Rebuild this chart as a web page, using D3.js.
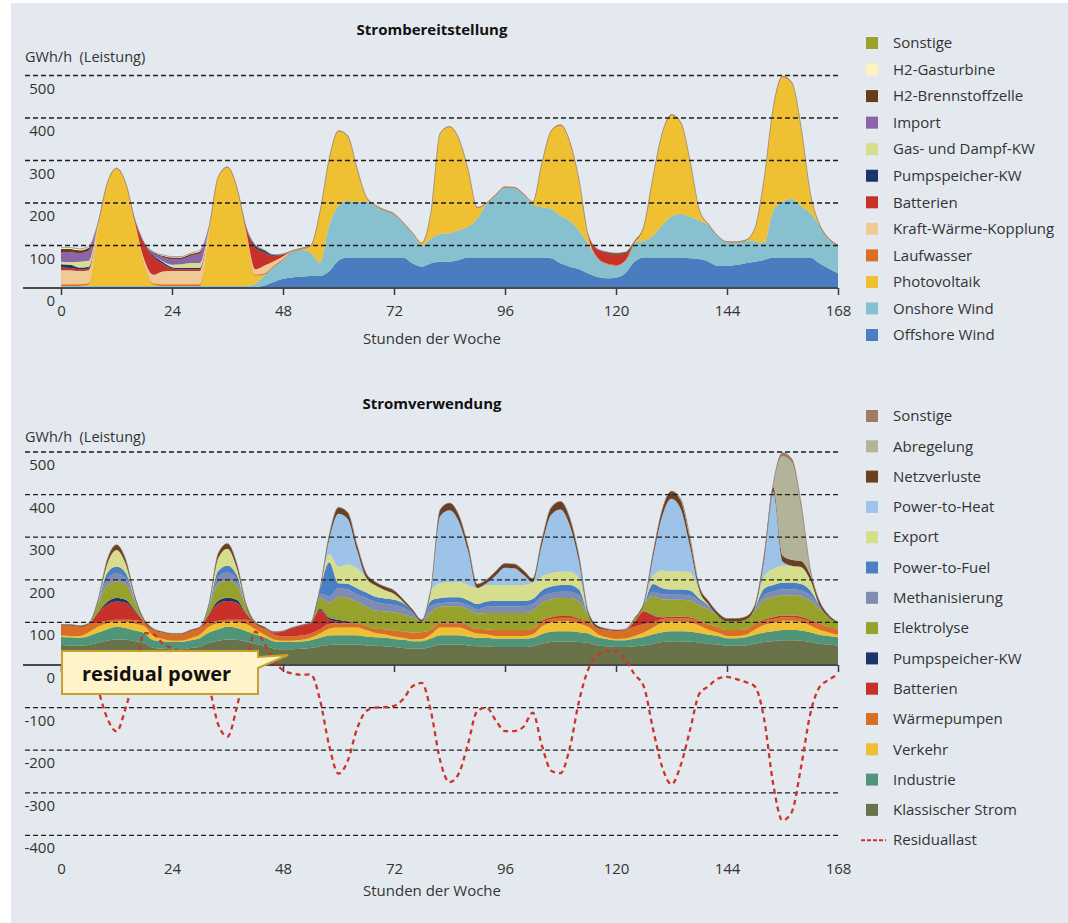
<!DOCTYPE html>
<meta charset="utf-8">
<script src="https://d3js.org/d3.v7.min.js"></script>
<style>
  body { margin: 0; background: #fff; }
  text { font-family: "Open Sans", sans-serif; fill: #333; }
</style>
<div id="chart"></div>
<script>

// hours of the week, one value every 2 hours (0..168)
var hours = d3.range(0, 169, 2);
var xTicks = [0, 24, 48, 72, 96, 120, 144, 168];

// ---- Strombereitstellung (supply), GWh/h, one row per day (h0..h22), last value = h168
var offshore = [
  1,1,1,1,1,1,1,1,1,1,1,1,
  1,1,1,1,1,1,1,1,1,2,6,14,
  22,25,27,28,28,40,65,72,72,72,72,72,
  72,72,58,50,58,62,62,66,72,72,72,72,
  72,72,72,72,72,70,58,50,44,34,26,23,
  25,35,62,72,72,72,72,72,70,68,62,52,
  52,54,58,62,66,72,72,72,72,72,58,46,
  35];
var onshore = [
  4,4,4,4,4,4,4,4,4,4,4,4,
  4,4,4,4,4,4,4,4,4,8,24,36,
  44,60,63,55,32,108,128,133,131,131,121,110,
  101,80,70,50,58,65,67,70,72,91,126,146,
  164,163,148,124,118,116,112,108,90,69,44,33,
  27,28,44,39,51,76,96,102,98,90,86,69,
  55,53,53,48,40,110,131,138,121,104,90,69,
  64];
var photovoltaik = [
  0,0,0,3,140,240,275,240,148,52,3,0,
  0,0,0,0,125,255,278,231,129,19,2,0,
  0,0,0,15,118,155,175,151,77,10,0,0,
  0,0,0,4,62,236,249,214,134,25,0,0,
  0,0,0,5,103,182,212,185,119,17,0,0,
  0,0,0,32,137,215,238,214,130,25,0,0,
  0,0,0,28,147,241,293,272,185,47,0,0,
  0];
var laufwasser = [
  4,4,4,4,2,2,2,2,2,2,3,4,
  4,4,4,4,2,2,2,2,2,3,3,3,
  3,2,2,2,2,2,2,2,2,2,2,2,
  2,2,2,2,2,2,2,2,2,2,2,2,
  2,2,2,2,2,2,2,2,2,2,2,2,
  2,2,2,2,2,2,2,2,2,2,2,2,
  2,2,2,2,2,2,2,2,2,2,2,2,
  2];
var kwk = [
  33,33,31,30,4,0,0,0,0,8,20,30,
  31,31,31,31,8,0,0,0,0,12,18,10,
  5,1,0,0,0,0,0,0,0,0,0,0,
  0,0,0,0,0,0,0,0,0,0,0,0,
  0,0,0,0,0,0,0,0,0,0,0,0,
  0,0,0,0,0,0,0,0,0,0,0,0,
  0,0,0,0,0,0,0,0,0,0,0,0,
  0];
var batterienS = [
  6,5,4,4,0,0,0,0,5,37,42,18,
  6,4,4,4,1,0,0,0,8,50,30,12,
  4,0,0,0,0,0,0,0,0,0,0,0,
  0,0,0,0,0,0,0,0,0,0,0,0,
  0,0,0,0,0,0,0,0,0,3,18,24,
  24,15,0,0,0,0,0,0,0,0,0,0,
  0,0,0,0,0,0,0,0,0,0,0,0,
  0];
var pumpS = [
  8,8,4,4,0,0,0,0,0,2,4,4,
  3,3,3,3,1,0,0,0,0,5,4,2,
  1,0,0,0,0,0,0,0,0,0,0,0,
  0,0,0,0,0,0,0,0,0,0,0,0,
  0,0,0,0,0,0,0,0,0,0,0,0,
  0,0,0,0,0,0,0,0,0,0,0,0,
  0,0,0,0,0,0,0,0,0,0,0,0,
  0];
var gud = [
  6,6,14,14,0,0,0,0,0,0,0,2,
  6,9,12,12,1,0,0,0,0,0,0,0,
  0,0,0,0,0,0,0,0,0,0,0,0,
  0,0,0,0,0,0,0,0,0,0,0,0,
  0,0,0,0,0,0,0,0,0,0,0,0,
  0,0,0,0,0,0,0,0,0,0,0,0,
  0,0,0,0,0,0,0,0,0,0,0,0,
  0];
var importS = [
  23,24,20,24,2,0,0,0,0,0,5,10,
  13,12,17,22,1,0,0,0,0,0,0,0,
  0,0,0,0,0,0,0,0,0,0,0,0,
  0,0,0,0,0,0,0,0,0,0,0,0,
  0,0,0,0,0,0,0,0,0,0,0,0,
  0,0,0,0,0,0,0,0,0,0,0,0,
  0,0,0,0,0,0,0,0,0,0,0,0,
  0];
var h2bz = [
  7,7,7,7,0,0,0,0,0,0,2,3,
  4,4,4,5,0,0,0,0,0,2,2,1,
  1,0,0,0,0,0,0,0,0,0,0,0,
  0,0,0,0,0,0,0,0,0,0,0,0,
  0,0,0,0,0,0,0,0,0,0,2,3,
  4,4,2,0,0,0,0,0,0,0,0,0,
  0,0,0,0,0,0,0,0,0,0,0,0,
  0];
var h2gt = [
  3,3,3,3,0,0,0,0,0,0,1,2,
  2,2,2,3,0,0,0,0,0,0,0,0,
  0,0,0,0,0,0,0,0,0,0,0,0,
  0,0,0,0,0,0,0,0,0,0,0,0,
  0,0,0,0,0,0,0,0,0,0,0,0,
  0,0,0,0,0,0,0,0,0,0,0,0,
  0,0,0,0,0,0,0,0,0,0,0,0,
  0];
var sonstigeS = [
  0,0,0,0,0,0,0,0,0,0,0,0,
  0,0,0,0,0,0,0,0,0,0,0,0,
  0,0,2,0,0,0,0,0,0,0,0,0,
  0,0,0,0,0,0,0,0,0,0,0,0,
  0,0,0,0,0,0,0,0,0,0,0,0,
  0,0,0,0,0,0,0,0,0,0,0,0,
  0,0,0,0,0,0,0,0,0,0,0,0,
  0];

// ---- Stromverwendung (use), GWh/h
var klassisch = [
  47,46,45,47,52,57,60,59,56,52,40,38,
  37,37,40,43,52,57,60,59,55,50,45,39,
  37,37,38,40,44,47,48,48,48,46,45,44,
  42,40,38,38,42,48,48,48,46,44,44,42,
  42,42,42,44,50,54,55,55,54,52,46,44,
  42,42,44,46,50,54,56,56,55,53,50,48,
  45,45,46,50,54,56,58,58,57,54,50,48,
  46];
var industrie = [
  19,19,19,21,24,27,30,28,25,23,18,18,
  17,17,18,20,24,27,30,28,25,22,20,17,
  17,17,17,18,20,22,22,22,22,21,20,20,
  19,19,18,18,20,22,22,22,21,20,20,20,
  20,20,20,20,23,24,24,24,23,22,19,17,
  16,16,18,20,22,23,23,23,23,22,21,20,
  18,18,19,21,22,23,24,24,24,23,21,20,
  19];
var verkehr = [
  3,3,4,9,14,14,12,14,16,16,10,5,
  3,3,5,8,14,14,12,14,16,12,6,4,
  3,3,4,6,10,16,18,18,18,15,10,8,
  6,5,4,5,10,18,18,18,14,10,8,6,
  6,6,6,8,18,22,24,24,20,16,8,4,
  3,4,6,10,16,22,23,23,22,18,12,8,
  5,5,6,12,18,20,22,22,20,16,12,8,
  6];
var waermepumpen = [
  24,25,22,19,10,6,4,5,8,11,15,15,
  15,15,17,16,10,6,4,5,10,14,15,12,
  10,10,10,10,10,12,10,10,10,10,10,12,
  14,15,16,16,12,10,10,10,10,11,12,14,
  14,14,14,13,10,8,8,8,9,10,14,18,
  19,20,22,20,12,9,8,8,9,10,12,14,
  14,14,13,12,10,9,8,8,8,10,12,14,
  14];
var batterienU = [
  0,0,0,0,22,38,43,40,20,0,0,0,
  0,0,0,0,18,40,44,40,14,0,0,4,
  11,19,23,24,45,10,4,2,0,0,0,0,
  0,0,0,0,0,2,2,2,2,0,0,0,
  0,0,0,0,3,4,4,4,3,2,0,0,
  0,0,12,30,15,4,4,4,3,2,0,0,
  0,0,0,2,3,4,4,4,4,3,2,0,
  0];
var pumpU = [
  0,0,0,0,2,6,8,7,3,0,0,0,
  0,0,0,0,2,7,8,7,2,0,0,0,
  0,0,0,0,3,4,4,2,0,0,0,0,
  0,0,0,0,0,0,0,0,0,0,0,0,
  0,0,0,0,0,0,0,0,0,0,0,0,
  0,0,0,0,2,0,0,0,0,0,0,0,
  0,0,0,0,0,0,0,0,0,0,0,0,
  0];
var elektrolyse = [
  0,0,0,0,18,38,39,36,20,0,0,0,
  0,0,0,0,15,40,40,34,14,0,0,0,
  0,0,0,0,25,35,54,55,50,45,43,42,
  42,40,36,25,40,37,38,38,38,36,38,40,
  40,40,40,42,42,42,42,42,40,15,0,0,
  0,0,6,15,45,42,39,39,39,35,35,26,
  20,20,22,30,45,47,48,48,48,45,35,22,
  14];
var methanisierung = [
  0,0,0,0,4,16,19,15,4,0,0,0,
  0,0,0,0,3,16,19,14,2,0,0,0,
  0,0,0,0,10,15,20,20,18,20,20,18,
  18,16,10,0,15,8,9,9,9,10,15,16,
  16,16,16,16,15,15,15,15,14,2,0,0,
  0,0,0,0,10,12,12,12,12,10,8,0,
  0,0,0,4,12,14,14,14,14,12,6,0,
  0];
var powerToFuel = [
  0,0,0,0,2,14,16,12,2,0,0,0,
  0,0,0,0,2,14,16,10,0,0,0,0,
  0,0,0,0,10,80,12,14,14,13,12,12,
  12,10,3,0,12,12,12,12,12,12,12,12,
  12,12,12,12,14,15,16,16,14,0,0,0,
  0,0,0,0,18,14,12,12,12,6,2,0,
  0,0,0,2,15,15,15,15,15,12,2,0,
  0];
var exportU = [
  0,0,0,0,1,21,39,21,1,0,0,0,
  0,0,0,0,0,30,40,17,0,0,0,0,
  0,0,0,0,0,20,39,45,48,35,27,20,
  14,3,0,0,25,35,36,36,36,38,38,38,
  38,38,38,38,33,32,31,31,28,0,0,0,
  0,0,0,0,20,42,43,43,43,20,2,0,
  0,0,0,0,28,38,40,40,40,25,0,0,
  0];
var powerToHeat = [
  0,0,0,0,0,0,0,0,0,0,0,0,
  0,0,0,0,0,0,0,0,0,0,0,0,
  0,0,0,0,0,34,124,107,42,0,0,0,
  0,0,0,0,0,158,168,142,80,0,5,22,
  40,39,24,2,75,137,146,109,38,0,0,0,
  0,0,0,0,42,128,170,146,60,0,0,0,
  0,0,0,0,38,180,10,0,0,0,0,0,
  0];
var netzverluste = [
  2,2,2,2,4,10,12,10,5,4,2,2,
  2,2,2,2,4,11,12,10,6,3,3,2,
  2,2,2,2,3,10,15,15,12,10,8,8,
  8,6,5,4,4,15,17,15,12,9,8,10,
  10,10,10,8,12,17,19,17,12,6,5,2,
  2,2,2,4,10,15,18,20,16,9,8,7,
  7,7,7,7,10,12,14,14,14,12,10,5,
  2];
var abregelung = [
  0,0,0,0,0,0,0,0,0,0,0,0,
  0,0,0,0,0,0,0,0,0,0,0,0,
  0,0,0,0,0,0,0,0,0,0,0,0,
  0,0,0,0,0,0,0,0,0,0,0,0,
  0,0,0,0,0,0,0,0,0,0,0,0,
  0,0,0,0,0,0,0,4,6,0,0,0,
  0,0,0,0,0,7,233,229,128,13,0,0,
  0];
var sonstigeU = [
  0,0,0,0,0,0,0,0,0,0,0,0,
  0,0,0,0,0,0,0,0,0,0,0,0,
  0,0,0,0,0,0,0,0,0,0,0,0,
  0,0,0,0,0,0,0,0,0,0,0,0,
  0,0,0,0,0,0,0,0,0,0,0,0,
  0,0,0,0,0,0,0,0,0,0,0,0,
  0,0,0,0,0,0,8,8,8,0,0,0,
  0];
var residuallast = [
  20,22,18,0,-58,-125,-156,-100,-20,75,72,50,
  40,30,20,0,-50,-140,-168,-100,0,78,50,10,
  -12,-20,-23,-22,-82,-190,-255,-225,-150,-108,-100,-99,
  -96,-80,-50,-42,-110,-225,-275,-255,-185,-108,-100,-130,
  -155,-155,-145,-112,-190,-248,-254,-195,-85,-10,22,33,
  32,14,-22,-50,-150,-240,-280,-235,-153,-68,-50,-32,
  -28,-33,-40,-50,-125,-280,-365,-345,-240,-115,-52,-35,
  -22];

// series tables, bottom of the stack first
var supplySeries = [
  {name: "Offshore Wind", values: offshore, color: "#4a7dbf"},
  {name: "Onshore Wind", values: onshore, color: "#87c0ce"},
  {name: "Photovoltaik", values: photovoltaik, color: "#efc132"},
  {name: "Laufwasser", values: laufwasser, color: "#d96f24"},
  {name: "Kraft-Wärme-Kopplung", values: kwk, color: "#f1c995"},
  {name: "Batterien", values: batterienS, color: "#c8312a"},
  {name: "Pumpspeicher-KW", values: pumpS, color: "#1d356a"},
  {name: "Gas- und Dampf-KW", values: gud, color: "#d6dd8c"},
  {name: "Import", values: importS, color: "#8b65a8"},
  {name: "H2-Brennstoffzelle", values: h2bz, color: "#6b3b1f"},
  {name: "H2-Gasturbine", values: h2gt, color: "#fdf3c1"},
  {name: "Sonstige", values: sonstigeS, color: "#9aa42b"}
];
var useSeries = [
  {name: "Klassischer Strom", values: klassisch, color: "#6a7249"},
  {name: "Industrie", values: industrie, color: "#509579"},
  {name: "Verkehr", values: verkehr, color: "#efc132"},
  {name: "Wärmepumpen", values: waermepumpen, color: "#d96f24"},
  {name: "Batterien", values: batterienU, color: "#c8312a"},
  {name: "Pumpspeicher-KW", values: pumpU, color: "#1d356a"},
  {name: "Elektrolyse", values: elektrolyse, color: "#96a22b"},
  {name: "Methanisierung", values: methanisierung, color: "#7f8bb1"},
  {name: "Power-to-Fuel", values: powerToFuel, color: "#4a7fc3"},
  {name: "Export", values: exportU, color: "#d6dd8c"},
  {name: "Power-to-Heat", values: powerToHeat, color: "#9dc4e8"},
  {name: "Netzverluste", values: netzverluste, color: "#6c3f22"},
  {name: "Abregelung", values: abregelung, color: "#b3b399"},
  {name: "Sonstige", values: sonstigeU, color: "#a27b5e"}
];

var W = 1068, H = 923;
var svg = d3.select("#chart").append("svg")
    .attr("width", W)
    .attr("height", H);

// grey panel
svg.append("rect")
    .attr("x", 11).attr("y", 3)
    .attr("width", W - 11).attr("height", H - 3)
    .attr("fill", "#e4e9f0");

var x = d3.scaleLinear().domain([0, 168]).range([61, 838]);
var yTop = d3.scaleLinear().domain([0, 500]).range([288, 75.5]);
var yBot = d3.scaleLinear().domain([-400, 500]).range([835.4, 452]);

function buildRows(series) {
  return hours.map(function(h, i) {
    var row = {h: h};
    series.forEach(function(s) { row[s.name] = s.values[i]; });
    return row;
  });
}

function drawPanel(cfg) {
  var g = svg.append("g");
  var y = cfg.y;
  var rows = buildRows(cfg.series);
  var stack = d3.stack().keys(cfg.series.map(function(s) { return s.name; }));
  var layers = stack(rows);

  var area = d3.area()
      .x(function(d) { return x(d.data.h); })
      .y0(function(d) { return y(d[0]); })
      .y1(function(d) { return y(d[1]); })
      .curve(d3.curveMonotoneX);

  g.selectAll(".layer")
    .data(layers)
    .enter().append("path")
      .attr("class", "layer")
      .attr("fill", function(d, i) { return cfg.series[i].color; })
      .attr("d", area);

  // thin outline on top of the whole stack
  var top = layers[layers.length - 1];
  g.append("path")
      .datum(top)
      .attr("fill", "none")
      .attr("stroke", "#8c7f74")
      .attr("stroke-opacity", 0.7)
      .attr("stroke-width", 1)
      .attr("d", d3.line()
        .x(function(d) { return x(d.data.h); })
        .y(function(d) { return y(d[1]); })
        .curve(d3.curveMonotoneX));

  // dashed grid lines
  g.selectAll(".grid")
    .data(cfg.grid)
    .enter().append("line")
      .attr("x1", 25).attr("x2", 838)
      .attr("y1", function(d) { return y(d); })
      .attr("y2", function(d) { return y(d); })
      .attr("stroke", "#1e1e1e")
      .attr("stroke-width", 1.3)
      .attr("stroke-dasharray", "5,3");

  // zero line
  g.append("line")
      .attr("x1", 23).attr("x2", 838)
      .attr("y1", y(0)).attr("y2", y(0))
      .attr("stroke", "#4a4a4a")
      .attr("stroke-width", 2);

  // y labels sit just below their line
  g.selectAll(".ylab")
    .data(cfg.labels)
    .enter().append("text")
      .attr("x", 55)
      .attr("y", function(d) { return y(d) + 18; })
      .attr("text-anchor", "end")
      .style("font-size", "15px")
      .text(function(d) { return d; });

  // x axis ticks and labels
  var ax = g.append("g")
      .attr("transform", "translate(0," + y(0) + ")")
      .call(d3.axisBottom(x).tickValues(xTicks).tickSize(7).tickSizeOuter(0));
  ax.select(".domain").remove();
  ax.selectAll("line").attr("stroke", "#3a3a3a").attr("stroke-width", 1.5);
  ax.selectAll("text")
      .attr("y", cfg.tickTextY)
      .attr("dy", "0.71em")
      .style("font-size", "15px")
      .style("font-family", "'Open Sans', sans-serif")
      .attr("fill", "#333");

  g.append("text")
      .attr("x", 432).attr("y", y(0) + cfg.titleY)
      .attr("text-anchor", "middle")
      .style("font-size", "15px")
      .text("Stunden der Woche");

  g.append("text")
      .attr("x", 432).attr("y", cfg.headY)
      .attr("text-anchor", "middle")
      .style("font-size", "15px")
      .style("font-weight", "bold")
      .style("fill", "#111")
      .text(cfg.heading);

  g.append("text")
      .attr("x", 25).attr("y", cfg.unitY)
      .style("font-size", "14.5px")
      .style("white-space", "pre")
      .text("GWh/h  (Leistung)");

  // legend, top entry = top of the stack
  var leg = g.selectAll(".leg")
    .data(cfg.series.slice().reverse())
    .enter().append("g")
      .attr("transform", function(d, i) {
        return "translate(866," + (cfg.legY + i * cfg.legStep) + ")";
      });
  leg.append("rect")
      .attr("x", 0).attr("y", -6)
      .attr("width", 12).attr("height", 12)
      .attr("fill", function(d) { return d.color; });
  leg.append("text")
      .attr("x", 27).attr("y", 0)
      .attr("dy", "0.35em")
      .style("font-size", "15px")
      .text(function(d) { return d.name; });

  return g;
}

drawPanel({
  y: yTop, series: supplySeries,
  grid: [100, 200, 300, 400, 500],
  labels: [0, 100, 200, 300, 400, 500],
  tickTextY: 17, titleY: 56,
  heading: "Strombereitstellung", headY: 35, unitY: 62,
  legY: 43, legStep: 26.55
});

var bottom = drawPanel({
  y: yBot, series: useSeries,
  grid: [-400, -300, -200, -100, 100, 200, 300, 400, 500],
  labels: [-400, -300, -200, -100, 0, 100, 200, 300, 400, 500],
  tickTextY: 198, titleY: 231,
  heading: "Stromverwendung", headY: 409, unitY: 442,
  legY: 416, legStep: 30.3
});

// Residuallast line
svg.append("path")
    .datum(residuallast)
    .attr("fill", "none")
    .attr("stroke", "#cc3528")
    .attr("stroke-width", 2.3)
    .attr("stroke-dasharray", "5,4")
    .attr("d", d3.line()
      .x(function(d, i) { return x(hours[i]); })
      .y(function(d) { return yBot(d); })
      .curve(d3.curveMonotoneX));

// legend entry for the line
var resY = 416 + 14 * 30.3;
svg.append("line")
    .attr("x1", 861).attr("x2", 886)
    .attr("y1", resY).attr("y2", resY)
    .attr("stroke", "#cc3528")
    .attr("stroke-width", 2)
    .attr("stroke-dasharray", "4,2");
svg.append("text")
    .attr("x", 893).attr("y", resY)
    .attr("dy", "0.35em")
    .style("font-size", "15px")
    .text("Residuallast");

// callout
svg.append("path")
    .attr("d", "M62,651 H258 V657 L288,655 L258,668 V694 H62 Z")
    .attr("fill", "#fff3c9")
    .attr("stroke", "#c9a22e")
    .attr("stroke-width", 2);
svg.append("text")
    .attr("x", 82).attr("y", 681)
    .style("font-size", "20px")
    .style("font-weight", "bold")
    .style("fill", "#111")
    .text("residual power");

</script>
